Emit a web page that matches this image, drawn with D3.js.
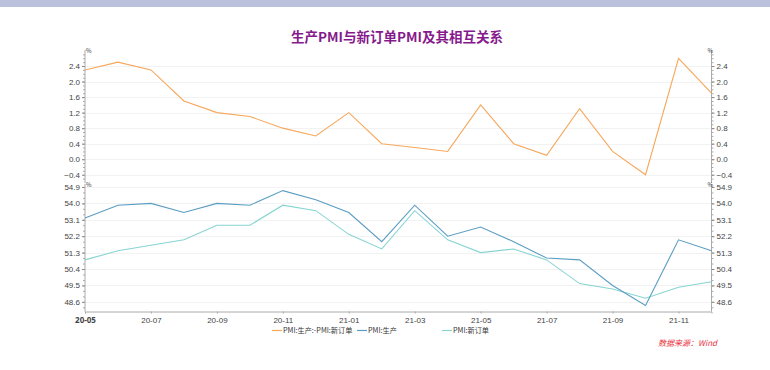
<!DOCTYPE html>
<html>
<head>
<meta charset="utf-8">
<script src="https://cdnjs.cloudflare.com/ajax/libs/d3/7.8.5/d3.min.js"></script>
<style>
  body { margin: 0; background: #fff; }
  svg { display: block; font-family: "Noto Sans CJK SC", "Noto Sans", sans-serif; }
  .tick text { fill: #444; font-size: 8px; }
</style>
</head>
<body>
<div id="chart"></div>
<script>
var months = ["20-05","20-06","20-07","20-08","20-09","20-10","20-11","20-12",
  "21-01","21-02","21-03","21-04","21-05","21-06","21-07","21-08","21-09","21-10","21-11","21-12"];
var production = [53.2,53.9,54.0,53.5,54.0,53.9,54.7,54.2,53.5,51.9,53.9,52.2,52.7,51.9,51.0,50.9,49.5,48.4,52.0,51.4];
var newOrders = [50.9,51.4,51.7,52.0,52.8,52.8,53.9,53.6,52.3,51.5,53.6,52.0,51.3,51.5,50.9,49.6,49.3,48.8,49.4,49.7];
var diff = [2.3,2.5,2.3,1.5,1.2,1.1,0.8,0.6,1.2,0.4,0.3,0.2,1.4,0.4,0.1,1.3,0.2,-0.4,2.6,1.7];
var topTicks = [-0.4,0.0,0.4,0.8,1.2,1.6,2.0,2.4];
var bottomTicks = [48.6,49.5,50.4,51.3,52.2,53.1,54.0,54.9];
var xLabels = ["20-05","20-07","20-09","20-11","21-01","21-03","21-05","21-07","21-09","21-11"];
var seriesNames = ["PMI:生产:-PMI:新订单", "PMI:生产", "PMI:新订单"];
var colors = ["#F7A75C", "#5A9DC2", "#86D5D2"];

var W = 770, H = 370;
var svg = d3.select("#chart").append("svg").attr("width", W).attr("height", H);

// top band
svg.append("rect").attr("x", 0).attr("y", 0).attr("width", W).attr("height", 7).attr("fill", "#B9C1DD");

svg.append("text").attr("x", 397).attr("y", 42).attr("text-anchor", "middle")
  .attr("fill", "#861A8C").attr("font-size", 13.5).attr("font-weight", "bold")
  .text("生产PMI与新订单PMI及其相互关系");

var left = 85, right = 711.5;
var x = d3.scalePoint().domain(months).range([left, right]);

var yTop = d3.scaleLinear().domain([-0.6, 2.8]).range([182.5, 50.5]);
var yBot = d3.scaleLinear().domain([48.07, 54.98]).range([311.5, 185.5]);

function panel(y, ticks, minorStep, fmt, top, bottom) {
  // grid
  svg.append("g").selectAll("line").data(ticks).enter().append("line")
    .attr("x1", left).attr("x2", right)
    .attr("y1", function(d) { return Math.round(y(d)) + 0.5; })
    .attr("y2", function(d) { return Math.round(y(d)) + 0.5; })
    .attr("stroke", "#F2F2F2");
  var d0 = y.domain();
  var minor = d3.range(Math.ceil(d0[0] / minorStep) * minorStep, d0[1], minorStep);
  [[left, d3.axisLeft, -1], [right, d3.axisRight, 1]].forEach(function(s) {
    var g = svg.append("g").attr("transform", "translate(" + s[0] + ",0)");
    g.call(s[1](y).tickValues(minor).tickSize(2).tickFormat(""))
      .call(function(g) { g.select(".domain").remove(); g.selectAll("line").attr("stroke", "#AAA"); });
    var g2 = svg.append("g").attr("transform", "translate(" + s[0] + ",0)");
    g2.call(s[1](y).tickValues(ticks).tickSize(3).tickPadding(2).tickFormat(fmt))
      .call(function(g) {
        g.select(".domain").remove();
        g.selectAll("line").attr("stroke", "#888");
      });
    svg.append("line").attr("x1", s[0]).attr("x2", s[0]).attr("y1", top).attr("y2", bottom)
      .attr("stroke", "#AAA").attr("stroke-width", 1);
    svg.append("text").attr("x", s[0] + (s[2] < 0 ? 1 : -4)).attr("y", top + 3)
      .attr("font-size", 6).attr("fill", "#333").text("%");
  });
}
panel(yTop, topTicks, 0.1, d3.format(".1f"), 50, 183);
panel(yBot, bottomTicks, 0.3, d3.format(".1f"), 184, 311.5);

// x axis
var xa = svg.append("g").attr("transform", "translate(0,311.5)")
  .call(d3.axisBottom(x).tickValues(xLabels).tickSize(2).tickPadding(4));
xa.select(".domain").attr("stroke", "#AAA");
xa.selectAll("line").attr("stroke", "#AAA");
xa.selectAll("text").attr("font-size", 8).attr("fill", "#444");
xa.selectAll(".tick").filter(function(d) { return d === "20-05"; })
  .select("text").attr("font-family", "'Noto Sans', sans-serif").attr("font-weight", "bold").attr("fill", "#111");

function drawLine(data, y, color) {
  svg.append("path").datum(data)
    .attr("fill", "none").attr("stroke", color).attr("stroke-width", 1.1)
    .attr("d", d3.line().x(function(d, i) { return x(months[i]); }).y(function(d) { return y(d); }));
}
drawLine(diff, yTop, colors[0]);
drawLine(newOrders, yBot, colors[2]);
drawLine(production, yBot, colors[1]);

// legend
var legX = [272, 357, 442];
seriesNames.forEach(function(n, i) {
  svg.append("line").attr("x1", legX[i]).attr("x2", legX[i] + 10).attr("y1", 330.5).attr("y2", 330.5)
    .attr("stroke", colors[i]).attr("stroke-width", 1.2);
  svg.append("text").attr("x", legX[i] + 11).attr("y", 333.2).attr("font-size", 7.2).attr("fill", "#333").text(n);
});

svg.append("text").attr("x", 717).attr("y", 345.5).attr("text-anchor", "end")
  .attr("font-size", 8).attr("font-style", "italic").attr("fill", "#E8303A").text("数据来源：Wind");
</script>
</body>
</html>
